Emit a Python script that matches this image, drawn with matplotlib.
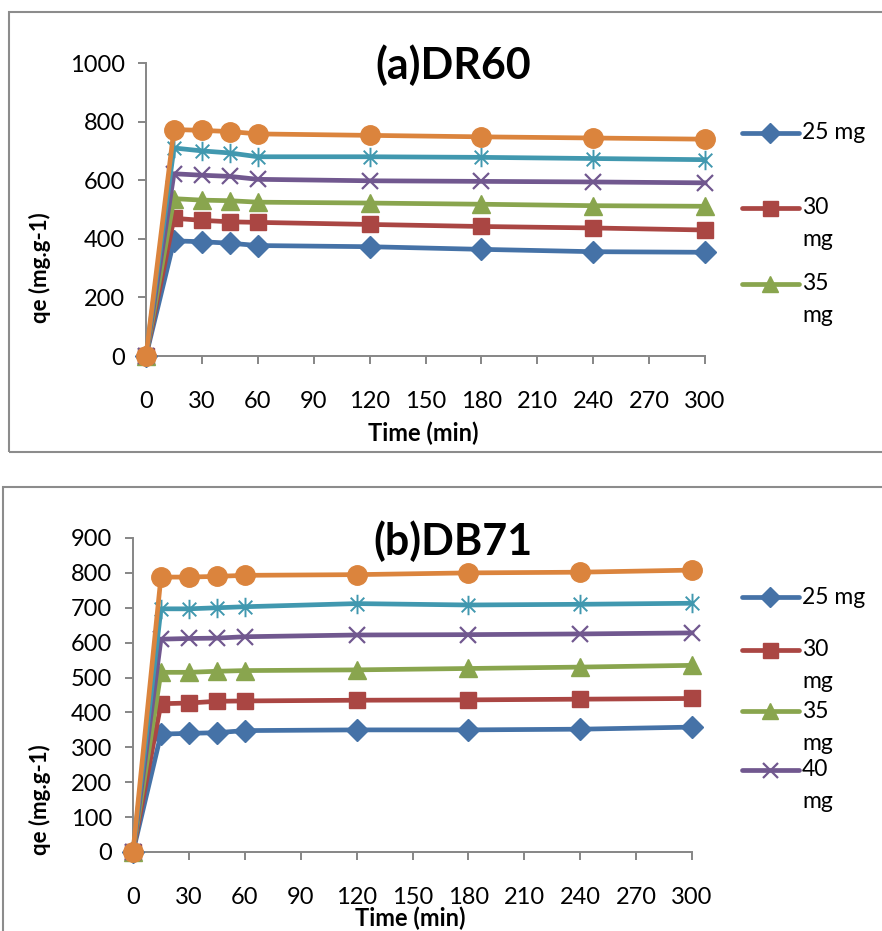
import numpy as np
import matplotlib.pyplot as plt
from matplotlib.lines import Line2D
from matplotlib.patches import Rectangle
from matplotlib.path import Path

plt.rcParams['font.family'] = ['Lato', 'DejaVu Sans']

# time (min)
time = [0, 15, 30, 45, 60, 120, 180, 240, 300]
doses = ['25 mg', '30 mg', '35 mg', '40 mg', '45 mg', '50 mg']

# (a) DR60, qe in mg/g
dr60_25 = [0, 393, 390, 385, 377, 373, 364, 356, 354]
dr60_30 = [0, 470, 463, 458, 456, 449, 442, 437, 430]
dr60_35 = [0, 537, 532, 530, 525, 522, 518, 513, 511]
dr60_40 = [0, 622, 617, 613, 603, 598, 596, 594, 591]
dr60_45 = [0, 710, 700, 693, 680, 680, 678, 674, 670]
dr60_50 = [0, 773, 770, 766, 758, 753, 748, 744, 740]

# (b) DB71
db71_25 = [0, 338, 340, 342, 348, 350, 350, 352, 358]
db71_30 = [0, 425, 427, 432, 433, 435, 436, 438, 440]
db71_35 = [0, 515, 515, 518, 520, 522, 526, 530, 535]
db71_40 = [0, 610, 612, 613, 617, 622, 623, 625, 628]
db71_45 = [0, 697, 697, 700, 703, 712, 708, 710, 713]
db71_50 = [0, 788, 788, 790, 793, 795, 800, 802, 808]

colors = ['#4572A7', '#AA4643', '#89A54E', '#71588F', '#4198AF', '#DB843D']

# excel style star marker (x plus vertical bar)
star = Path([(0, -1), (0, 1), (-0.7, -0.7), (0.7, 0.7), (-0.7, 0.7), (0.7, -0.7)],
            [Path.MOVETO, Path.LINETO, Path.MOVETO, Path.LINETO, Path.MOVETO, Path.LINETO])
markers = [dict(marker='D', ms=11),
           dict(marker='s', ms=12),
           dict(marker='^', ms=13),
           dict(marker='x', ms=12, mew=1.6),
           dict(marker=star, ms=14, mew=1.4),
           dict(marker='o', ms=14)]

W, H = 882, 931
fig = plt.figure(figsize=(W / 100, H / 100), dpi=100)

def fx(px):
    return px / W

def fy(py):
    return 1 - py / H

# panel borders
for (x0, y0, x1, y1) in [(9, 12, 900, 452), (3, 487, 900, 960)]:
    fig.patches.append(Rectangle((fx(x0), fy(y1)), fx(x1 - x0), (y1 - y0) / H,
                                 transform=fig.transFigure, fill=False,
                                 edgecolor='#8c8c8c', lw=1.5, zorder=0))

def panel(left, right, y0px, ytop_px, ymax, ystep, series, title, title_y, leg_rows, ylab_y, xlab_y):
    ax = fig.add_axes([fx(left), fy(y0px), (right - left) / W, (y0px - ytop_px) / H])
    for i, ys in enumerate(series):
        m = markers[i]
        ax.plot(time, ys, color=colors[i], lw=3.4, clip_on=False,
                mfc=colors[i], mec=colors[i], zorder=3 + i, **m)
    ax.set_xlim(0, 300)
    ax.set_ylim(0, ymax)
    ax.set_xticks(np.arange(0, 301, 30))
    ax.set_yticks(np.arange(0, ymax + 1, ystep))
    for s in ['top', 'right']:
        ax.spines[s].set_visible(False)
    for s in ['left', 'bottom']:
        ax.spines[s].set_color('#868686')
        ax.spines[s].set_linewidth(1.4)
    ax.tick_params(axis='both', colors='#868686', labelcolor='black',
                   length=6, width=1.4, labelsize=17)
    ax.tick_params(axis='x', pad=19)
    ax.tick_params(axis='y', pad=9)
    ax.set_facecolor('none')

    fig.text(fx(453), fy(title_y), title, ha='center', va='center',
             fontsize=31, fontweight='bold')
    fig.text(fx(40), fy(ylab_y), 'qe (mg.g-1)', ha='center', va='center',
             rotation=90, fontsize=16, fontweight='bold')
    fig.text(fx((left + right) / 2 - 2), fy(xlab_y), 'Time (min)', ha='center',
             va='center', fontsize=17, fontweight='bold')

    # legend drawn by hand (Excel wraps the labels)
    for i, (yl, lines) in enumerate(leg_rows):
        m = dict(markers[i])
        ms = m.pop('ms') * 0.9
        ln = Line2D([fx(742), fx(799)], [fy(yl), fy(yl)], transform=fig.transFigure,
                    color=colors[i], lw=3.4, solid_capstyle='round')
        fig.lines.append(ln)
        mk = Line2D([fx(770)], [fy(yl)], transform=fig.transFigure, color=colors[i],
                    mfc=colors[i], mec=colors[i], ms=ms, **m)
        fig.lines.append(mk)
        for k, t in enumerate(lines):
            fig.text(fx(802), fy(yl + 32 * k), t, ha='left', va='center', fontsize=16.5)
    return ax

panel(146, 705, 356, 63, 1000, 200,
      [dr60_25, dr60_30, dr60_35, dr60_40, dr60_45, dr60_50],
      '(a)DR60', 65,
      [(133, ['25 mg']), (208, ['30', 'mg']), (284, ['35', 'mg'])],
      268, 433)

panel(133, 692, 852, 538, 900, 100,
      [db71_25, db71_30, db71_35, db71_40, db71_45, db71_50],
      '(b)DB71', 541,
      [(597, ['25 mg']), (650, ['30', 'mg']), (711, ['35', 'mg']), (770, ['40', 'mg'])],
      800, 918)

fig.savefig('out.png', dpi=100)
